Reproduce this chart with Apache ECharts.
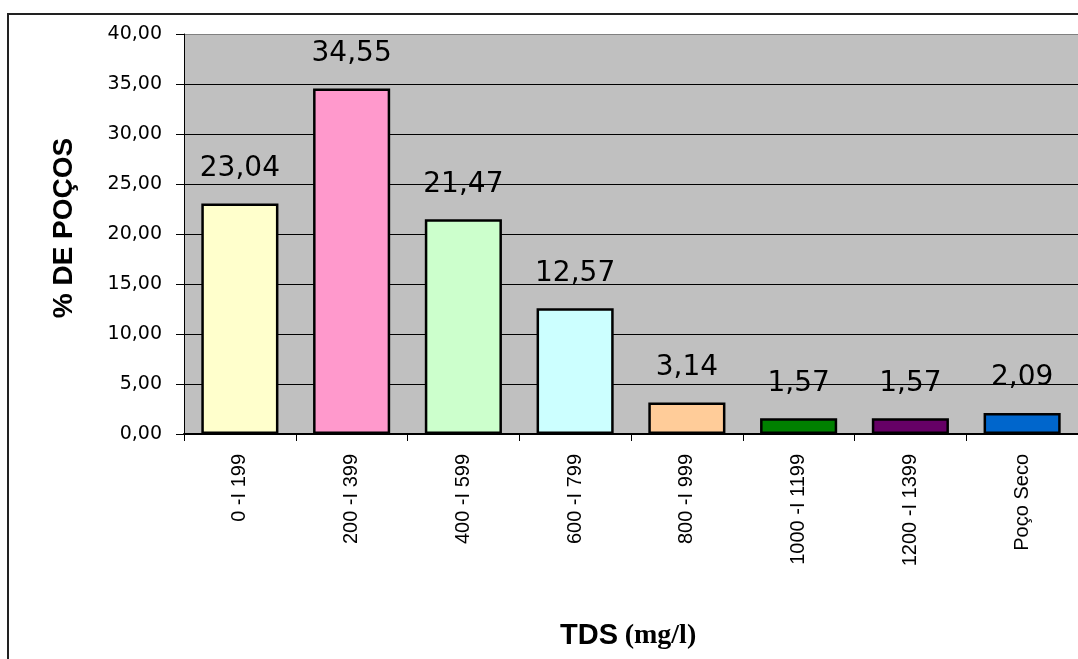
<!DOCTYPE html>
<html>
<head>
<meta charset="utf-8">
<script src="https://cdn.jsdelivr.net/npm/echarts@6/dist/echarts.min.js"></script>
<style>
html,body{margin:0;padding:0;background:#fff;}
#chart{width:1078px;height:659px;}
</style>
</head>
<body>
<div id="chart"></div>
<script>
const categories = ['0 -I 199', '200 -I 399', '400 -I 599', '600 -I 799', '800 -I 999', '1000 -I 1199', '1200 -I 1399', 'Poço Seco'];
const values = [23.04, 34.55, 21.47, 12.57, 3.14, 1.57, 1.57, 2.09];
const barColors = ['#FFFFCC', '#FF99CC', '#CCFFCC', '#CCFFFF', '#FFCC99', '#008000', '#660066', '#0066CC'];
const yTitle = '% DE POÇOS';
const xTitleMain = 'TDS';
const xTitleUnit = '(mg/l)';

const fmt = v => v.toFixed(2).replace('.', ',');

const chart = echarts.init(document.getElementById('chart'), null, {renderer: 'canvas'});
chart.setOption({
  animation: false,
  backgroundColor: '#ffffff',
  grid: {
    left: 184, top: 34, width: 899, height: 400,
    show: true, backgroundColor: '#C0C0C0', borderWidth: 0
  },
  xAxis: {
    type: 'category',
    data: categories,
    axisLine: {show: true, lineStyle: {color: '#000', width: 2}},
    axisTick: {show: true, length: 7, lineStyle: {color: '#000', width: 1}},
    axisLabel: {
      rotate: 90, margin: 20, interval: 0,
      color: '#000', fontSize: 20, fontFamily: 'Liberation Sans, Arial, sans-serif'
    },
    splitLine: {show: false}
  },
  yAxis: {
    type: 'value',
    min: 0, max: 40, interval: 5,
    axisLine: {show: true, lineStyle: {color: '#000', width: 1}},
    axisTick: {show: true, length: 8, lineStyle: {color: '#000', width: 1}},
    axisLabel: {
      margin: 22, color: '#000', fontSize: 19,
      fontFamily: 'DejaVu Sans, sans-serif',
      formatter: v => fmt(v)
    },
    splitLine: {show: true, lineStyle: {
      color: ['#000', '#000', '#000', '#000', '#000', '#000', '#000', '#000', '#808080'],
      width: 1
    }}
  },
  series: [{
    type: 'bar',
    data: values.map((v, i) => ({value: v, itemStyle: {color: barColors[i]}})),
    barCategoryGap: '31%',
    itemStyle: {borderColor: '#000', borderWidth: 2.5},
    label: {
      show: true, position: 'top', distance: 21,
      color: '#000', fontSize: 28, fontFamily: 'DejaVu Sans, sans-serif',
      formatter: p => fmt(p.value)
    }
  }],
  graphic: [
    {
      type: 'rect', silent: true, z: -10,
      shape: {x: 8, y: 14, width: 1300, height: 900},
      style: {fill: 'none', stroke: '#222', lineWidth: 2}
    },
    {
      type: 'text', silent: true,
      x: 64, y: 228, rotation: Math.PI / 2,
      style: {
        text: yTitle, fill: '#000',
        font: 'bold 28px "Liberation Sans", Arial, sans-serif',
        textAlign: 'center', textVerticalAlign: 'middle'
      }
    },
    {
      type: 'text', silent: true,
      x: 560, y: 636,
      style: {
        text: '{a|' + xTitleMain + '}  {b|' + xTitleUnit + '}',
        textVerticalAlign: 'middle',
        rich: {
          a: {fontSize: 29, fontWeight: 'bold', fontFamily: 'Liberation Sans, Arial, sans-serif', fill: '#000'},
          b: {fontSize: 28, fontWeight: 'bold', fontFamily: 'Liberation Serif, Times New Roman, serif', fill: '#000'}
        }
      }
    }
  ]
});
</script>
</body>
</html>
